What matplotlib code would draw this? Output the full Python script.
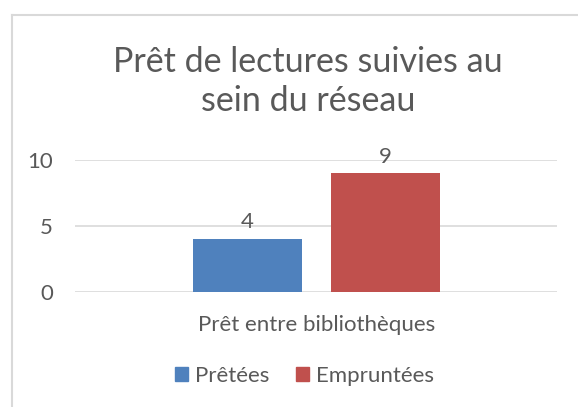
import matplotlib.pyplot as plt
from matplotlib.lines import Line2D
from matplotlib.patches import Patch
import numpy as np

plt.rcParams['font.family'] = ['Lato', 'DejaVu Sans']

categories = ["Prêt entre bibliothèques"]
series_names = ["Prêtées", "Empruntées"]
series_values = [[4], [9]]
series_colors = ["#4F81BD", "#C0504D"]
y_ticks = [0, 5, 10]

text_color = "#595959"
grid_color = "#D9D9D9"

fig = plt.figure(figsize=(5.78, 4.07), dpi=100)
ax = fig.add_axes([0.130, 0.283, 0.834, 0.324])

x = np.arange(len(categories))
width = 0.226
offsets = [-0.143, 0.143]
for name, vals, color, off in zip(series_names, series_values, series_colors, offsets):
    bars = ax.bar(x + off, vals, width, color=color, label=name, zorder=3)
    for b, v in zip(bars, vals):
        ax.text(b.get_x() + b.get_width() / 2, v + 0.5, str(v), ha="center", va="bottom",
                fontsize=16, color=text_color, clip_on=False)

ax.set_xlim(-0.5, 0.5)
ax.set_ylim(0, 10)
ax.set_yticks(y_ticks)
ax.set_xticks(x)
ax.set_xticklabels(categories)
ax.tick_params(axis="both", length=0, labelsize=16, colors=text_color)
ax.tick_params(axis="y", pad=16)
ax.tick_params(axis="x", pad=17)
ax.grid(axis="y", color=grid_color, linewidth=1.2, zorder=0)
for s in ax.spines.values():
    s.set_visible(False)

fig.text(0.533, 0.800, "Prêt de lectures suivies au\nsein du réseau", ha="center", va="center",
         fontsize=24.5, color=text_color, linespacing=1.26)

handles = [Patch(color=c) for c in series_colors]
fig.legend(handles, series_names, loc="center", bbox_to_anchor=(0.526, 0.076), ncol=2,
           frameon=False, fontsize=16, labelcolor=text_color, handlelength=0.6,
           handleheight=0.6, handletextpad=0.3, columnspacing=1.2)

# chart frame (top and left edges visible in the crop)
fig.add_artist(Line2D([11.5 / 578, 1.0], [1 - 15 / 407, 1 - 15 / 407], color=grid_color, lw=1.5))
fig.add_artist(Line2D([11.5 / 578, 11.5 / 578], [0.0, 1 - 15 / 407], color=grid_color, lw=1.5))

fig.savefig("out.png", dpi=100)
